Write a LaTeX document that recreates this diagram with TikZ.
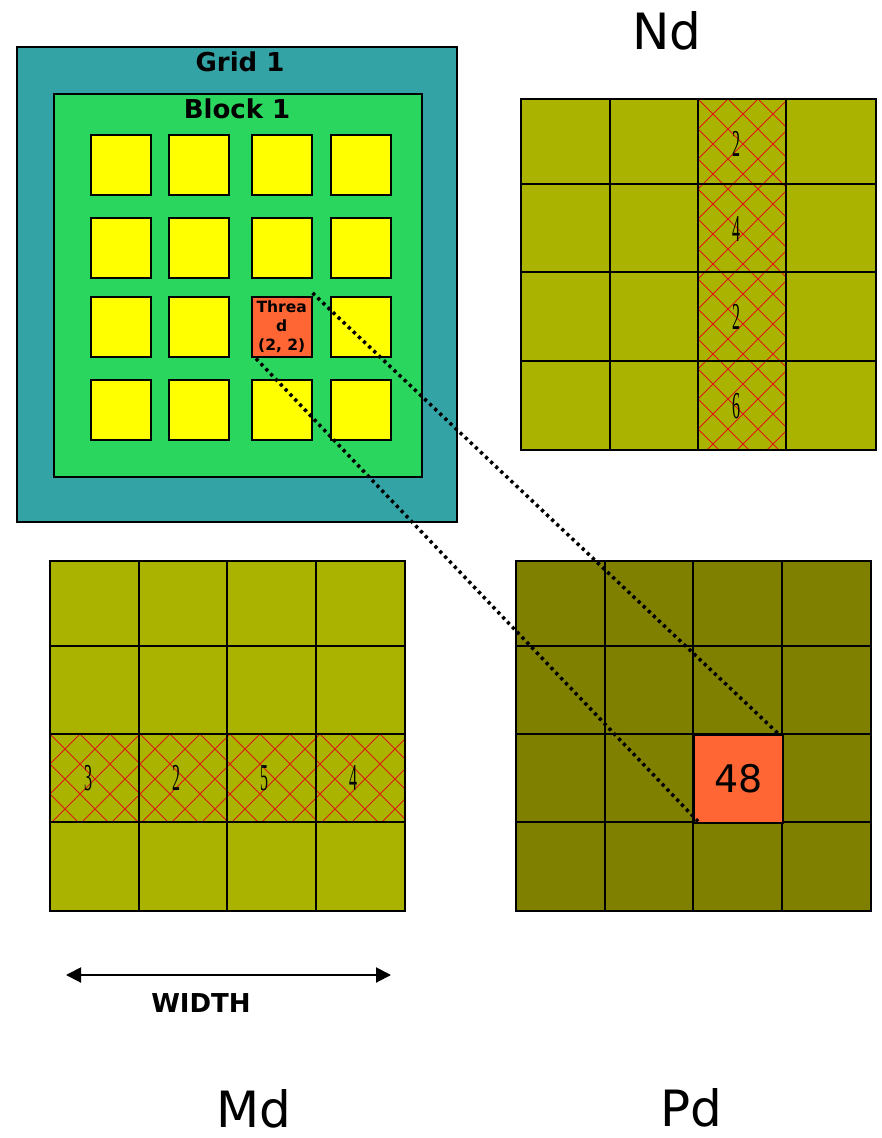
\documentclass[tikz,border=0pt]{standalone}
\usepackage{fontspec}
\setmainfont{DejaVu Sans}
\newfontfamily\numfont{Liberation Serif}
\usetikzlibrary{arrows.meta,calc}
\definecolor{gridteal}{RGB}{51,163,166}
\definecolor{blockgreen}{RGB}{43,214,94}
\definecolor{thryellow}{RGB}{255,255,0}
\definecolor{throrange}{RGB}{255,102,51}
\definecolor{olivelight}{RGB}{170,179,0}
\definecolor{olivedark}{RGB}{128,128,0}
\definecolor{hatchred}{RGB}{225,20,20}
\newcommand{\hnum}[1]{\scalebox{0.42}[1]{\numfont\fontsize{38}{38}\selectfont #1}}
\begin{document}
\begin{tikzpicture}[x=1pt,y=-1pt,
  thrbox/.style={draw=black,line width=1.5pt,fill=thryellow,minimum width=60pt,minimum height=60pt,inner sep=0pt,anchor=north west},
  lightcell/.style={draw=black,line width=1.6pt,fill=olivelight},
  darkcell/.style={draw=black,line width=1.6pt,fill=olivedark},
  hatchline/.style={draw=hatchred,line width=1pt},
  titletext/.style={font=\fontsize{50}{50}\selectfont},
  boldlabel/.style={font=\fontsize{26}{26}\selectfont\bfseries},
  mapline/.style={line width=3.5pt,dash pattern=on 3.2pt off 3.8pt},
]
\useasboundingbox (0,0) rectangle (882,1138);

% ---------------- Grid / Block ----------------
\node[draw=black,line width=1.5pt,fill=gridteal,minimum width=440pt,minimum height=475pt,inner sep=0pt,anchor=north west] (grid) at (16,46) {};
\node[boldlabel] (gridlbl) at (240,62) {Grid 1};
\node[draw=black,line width=1.5pt,fill=blockgreen,minimum width=368pt,minimum height=383pt,inner sep=0pt,anchor=north west] (block) at (53,93) {};
\node[boldlabel] (blocklbl) at (237,109) {Block 1};

\foreach \x [count=\i] in {90,168,251,330} {
  \foreach \y [count=\j] in {134,217,296,379} {
    \ifnum\i=3 \ifnum\j=3 \else
      \node[thrbox] (t\i\j) at (\x,\y) {};
    \fi\else
      \node[thrbox] (t\i\j) at (\x,\y) {};
    \fi
  }
}
\node[thrbox,fill=throrange,align=center,font=\fontsize{15.5}{19}\selectfont\bfseries] (thread) at (251,296) {Threa\\d\\(2, 2)};

% ---------------- Nd ----------------
\node[titletext] (ndlbl) at (667,31) {Nd};
\foreach \xa/\xb in {521/610,610/698,698/786,786/876} {
  \foreach \ya/\yb in {99/184,184/272,272/361,361/450} {
    \path[lightcell] (\xa,\ya) rectangle (\xb,\yb);
  }
}
\begin{scope}
  \clip (698,99) rectangle (786,450);
  \foreach \k in {-420,-390,...,500} {
    \draw[hatchline] (698+\k,99) -- ++(400,400);
    \draw[hatchline] (698+\k,99) -- ++(-400,400);
  }
\end{scope}
\foreach \ya/\yb in {99/184,184/272,272/361,361/450} {
  \draw[black,line width=1.6pt] (698,\ya) rectangle (786,\yb);
}
\node (nd1) at (736,144) {\hnum{2}};
\node (nd2) at (736,229) {\hnum{4}};
\node (nd3) at (736,317) {\hnum{2}};
\node (nd4) at (736,406) {\hnum{6}};

% ---------------- Md ----------------
\foreach \xa/\xb in {50/139,139/227,227/316,316/405} {
  \foreach \ya/\yb in {561/646,646/734,734/822,822/911} {
    \path[lightcell] (\xa,\ya) rectangle (\xb,\yb);
  }
}
\begin{scope}
  \clip (50,734) rectangle (405,822);
  \foreach \k in {-120,-90,...,500} {
    \draw[hatchline] (50+\k,734) -- ++(100,100);
    \draw[hatchline] (50+\k,734) -- ++(-100,100);
  }
\end{scope}
\foreach \xa/\xb in {50/139,139/227,227/316,316/405} {
  \draw[black,line width=1.6pt] (\xa,734) rectangle (\xb,822);
}
\node (md1) at (88,778) {\hnum{3}};
\node (md2) at (176,778) {\hnum{2}};
\node (md3) at (264,778) {\hnum{5}};
\node (md4) at (353,778) {\hnum{4}};
\node[titletext] (mdlbl) at (254,1109) {Md};

% ---------------- Pd ----------------
\foreach \xa/\xb in {516/605,605/693,693/782,782/871} {
  \foreach \ya/\yb in {561/646,646/734,734/822,822/911} {
    \path[darkcell] (\xa,\ya) rectangle (\xb,\yb);
  }
}
\node[draw=black,line width=1.6pt,fill=throrange,minimum width=89pt,minimum height=88pt,inner sep=0pt,anchor=north west,font=\fontsize{38}{38}\selectfont] (pcell) at (693,734) {48};
\node[titletext] (pdlbl) at (691,1108) {Pd};

% ---------------- mapping lines ----------------
\draw[mapline] ($(thread.north east)+(0,-3)$) -- ($(pcell.north east)+(-5,0)$);
\draw[mapline] ($(thread.south west)+(5,1)$) -- ($(pcell.south west)+(7,0)$);

% ---------------- WIDTH arrow ----------------
\coordinate (wl) at (66,975);
\coordinate (wr) at (391,975);
\draw[line width=2pt,{Triangle[length=15pt,width=15pt]}-{Triangle[length=15pt,width=15pt]}] (wl) -- (wr);
\node[boldlabel] (widthlbl) at (201,1003) {WIDTH};
\end{tikzpicture}
\end{document}
